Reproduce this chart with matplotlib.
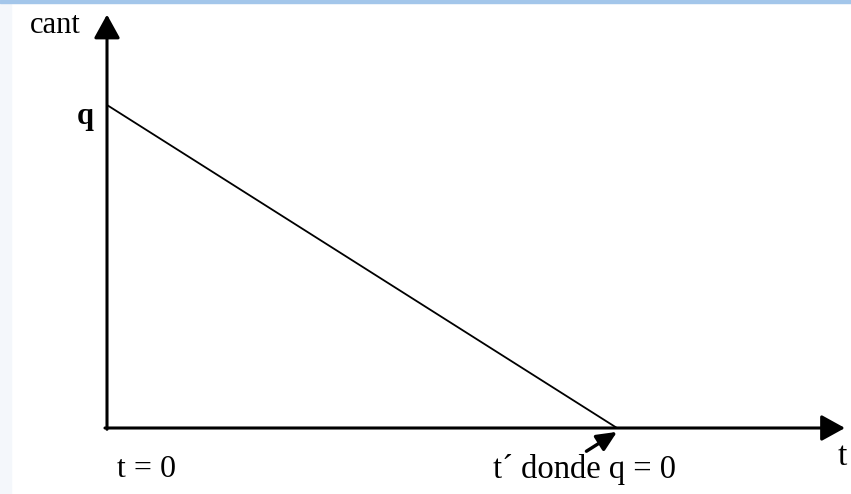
import numpy as np
import matplotlib.pyplot as plt
from matplotlib.patches import Rectangle

# ---------- data ----------
t_vals = [0.0, 1.0]        # t = 0 ... t' (where q reaches 0)
cant_vals = [1.0, 0.0]     # starts at q, ends at 0
t_max = 1.447              # end of t axis arrow
cant_max = 1.28            # end of cant axis arrow

W, H = 851, 494
x0_px, x1_px = 107, 617    # pixel positions of t=0 and t=t'
y0_px, y1_px = 428, 105    # pixel positions (from top) of cant=0 and cant=q

fig = plt.figure(figsize=(W / 100, H / 100), dpi=100)
fig.patches.append(Rectangle((0, 0), 11 / W, 1, transform=fig.transFigure,
                             color="#f4f7fb", zorder=0))
fig.patches.append(Rectangle((0, 1 - 3 / H), 1, 3 / H, transform=fig.transFigure,
                             color="#a3c6ea", zorder=0))

ax = fig.add_axes([0, 0, 1, 1])
ax.patch.set_alpha(0)
sx = x1_px - x0_px
sy = y0_px - y1_px
ax.set_xlim(-x0_px / sx, (W - x0_px) / sx)
ax.set_ylim(-(H - y0_px) / sy, y0_px / sy)
ax.axis("off")

font = dict(family=["Liberation Serif", "DejaVu Serif"], color="black")
arrow = dict(arrowstyle="-|>,head_length=1.45,head_width=0.8", color="black",
             lw=2.2, shrinkA=0, shrinkB=0)

# axes with arrowheads
ax.annotate("", xy=(0, cant_max), xytext=(0, -0.004), arrowprops=arrow)
ax.annotate("", xy=(t_max, 0), xytext=(-0.004, 0), arrowprops=arrow)

# the decreasing line
ax.plot(t_vals, cant_vals, color="black", lw=1.3, solid_capstyle="butt")

# labels
ax.text(-0.152, 1.245, "cant", ha="left", va="center", fontsize=22, **font)
ax.text(-0.042, 0.965, "q", ha="center", va="center", fontsize=22,
        fontweight="bold", **font)
ax.text(1.433, -0.09, "t", ha="left", va="center", fontsize=24, **font)
ax.text(0.02, -0.13, "t = 0", ha="left", va="center", fontsize=23, **font)
ax.text(0.757, -0.13, "t\u00b4 donde q = 0", ha="left", va="center",
        fontsize=23.5, **font)

# small arrow pointing at t'
ax.annotate("", xy=(t_vals[1], -0.012), xytext=(0.94, -0.072),
            arrowprops=dict(arrowstyle="-|>,head_length=1.2,head_width=0.55",
                            color="black", lw=2.4, shrinkA=0, shrinkB=0))

fig.savefig("out.png", dpi=100)
